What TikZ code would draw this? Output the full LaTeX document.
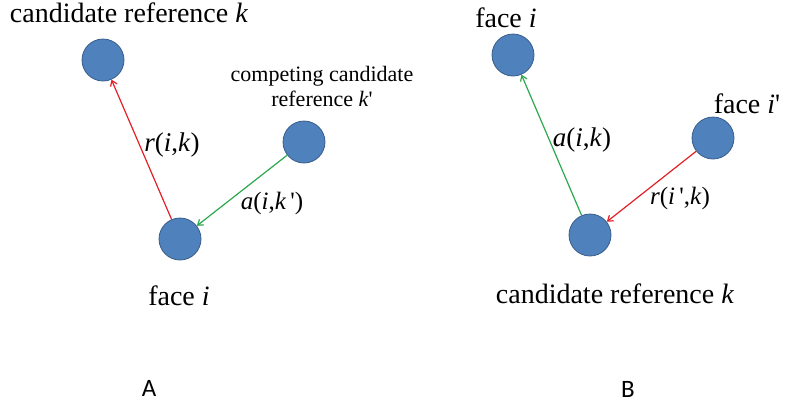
\documentclass[tikz,border=0pt]{standalone}
\usepackage{fontspec}
\setmainfont{Liberation Serif}
\newfontfamily\panelfont{Carlito}
\usetikzlibrary{arrows.meta}
\definecolor{dotblue}{RGB}{79,129,189}
\definecolor{dotline}{RGB}{56,93,138}
\definecolor{arrred}{RGB}{226,32,38}
\definecolor{arrgreen}{RGB}{44,168,78}
\newcommand{\pr}{\textquotesingle}

\begin{document}
\begin{tikzpicture}[x=1pt, y=-1pt,
    dot/.style={circle, draw=dotline, fill=dotblue, line width=0.8pt, minimum size=42pt, inner sep=0pt},
    biglabel/.style={font=\fontsize{28}{30}\selectfont, anchor=base, inner sep=0pt},
    smalllabel/.style={font=\fontsize{22}{25}\selectfont, align=center, inner sep=0pt},
    mathlabel/.style={font=\fontsize{25}{27}\selectfont, inner sep=0pt},
    panel/.style={font=\panelfont\fontsize{25}{27}\selectfont, inner sep=0pt},
    redarrow/.style={draw=arrred, line width=1.2pt, -{Straight Barb[length=5pt,width=7pt]}},
    greenarrow/.style={draw=arrgreen, line width=1.2pt, -{Straight Barb[length=5pt,width=7pt]}}]
    \useasboundingbox (0,0) rectangle (785,405);

    % panel A
    \node[dot] (ka) at (103,60) {};
    \node[dot] (kpa) at (304,142) {};
    \node[dot] (ia) at (180,239) {};
    \node[biglabel] (kalab) at (129,22) {candidate reference \textit{k}};
    \node[smalllabel] (kpalab) at (322,86) {competing candidate\\reference \textit{k}\pr};
    \node[biglabel] (ialab) at (179,305) {face \textit{i}};
    \draw[redarrow] (ia) -- (ka);
    \draw[greenarrow] (kpa) -- (ia);
    \node[mathlabel, font=\fontsize{27}{29}\selectfont] (rik) at (172,145) {\textit{r}(\textit{i},\textit{k})};
    \node[mathlabel] (aikp) at (272,203) {\textit{a}(\textit{i},\textit{k}\,\pr)};
    \node[panel] (pa) at (149,388) {A};

    % panel B
    \node[dot] (ib) at (513,55) {};
    \node[dot] (ipb) at (713,138) {};
    \node[dot] (kb) at (590,235) {};
    \node[biglabel] (iblab) at (506,27) {face \textit{i}};
    \node[biglabel] (ipblab) at (747,113) {face \textit{i}\pr};
    \node[biglabel] (kblab) at (615,303) {candidate reference \textit{k}};
    \draw[greenarrow] (kb) -- (ib);
    \draw[redarrow] (ipb) -- (kb);
    \node[mathlabel, font=\fontsize{27}{29}\selectfont] (aik) at (582,140) {\textit{a}(\textit{i},\textit{k})};
    \node[mathlabel] (ripk) at (680,198) {\textit{r}(\textit{i}\,\pr,\textit{k})};
    \node[panel] (pb) at (628,389) {B};
\end{tikzpicture}
\end{document}
